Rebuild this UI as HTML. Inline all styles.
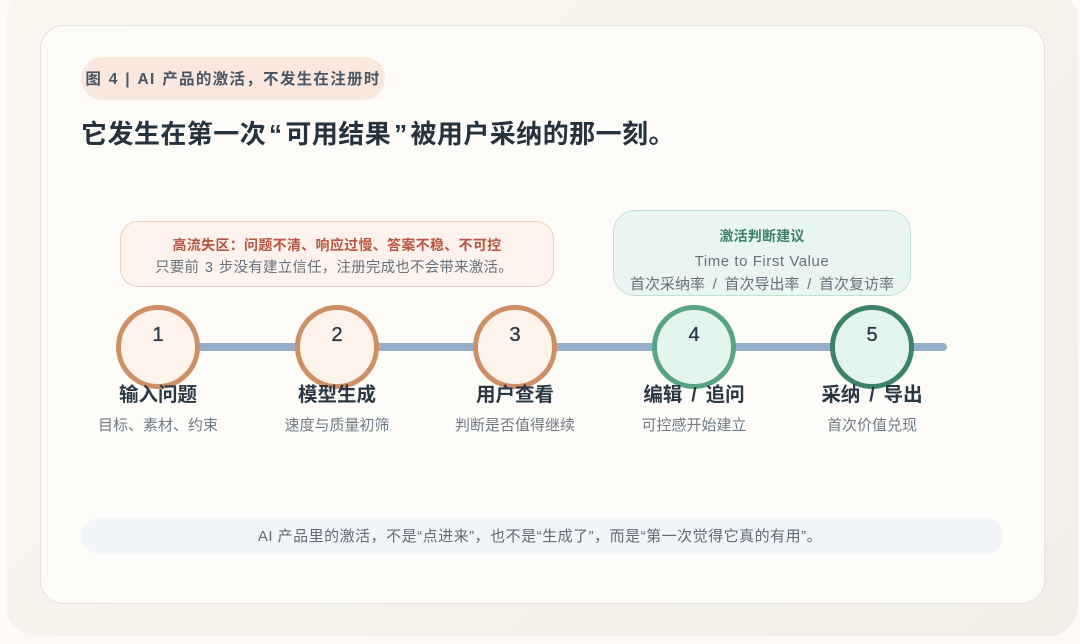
<!DOCTYPE html>
<html lang="zh"><head><meta charset="utf-8">
<style>
html,body{margin:0;padding:0;background:#fefaf5}
#p{position:relative;width:1080px;height:644px;overflow:hidden;background:#fefaf5;font-family:"Liberation Sans","Noto Sans CJK SC",sans-serif}
#p div{position:absolute;box-sizing:border-box}
.t{white-space:nowrap;text-align:center;transform:translateX(-50%)}
.c{width:84px;height:84px;border-radius:50%;top:305px;border:5px solid;text-align:center;font-size:20px;line-height:50px;color:#2b3a4a;-webkit-text-stroke:.35px #2b3a4a}
.n{top:383px;font-size:19.5px;line-height:24px;font-weight:700;color:#2b3743;word-spacing:3.5px}
.s{top:416px;font-size:15px;line-height:20px;color:#6f7b88}
.q{margin:0 2.9px}
</style></head><body><div id="p">
<div style="left:6px;top:-10px;width:1072px;height:646px;border-radius:30px;background:linear-gradient(135deg,#fcf6f0,#f2eee8)"></div>
<div style="left:40px;top:25px;width:1005px;height:579px;border-radius:24px;background:#fefcf9;border:1px solid #e2e4e2"></div>
<div style="left:81px;top:57px;width:304px;height:43px;border-radius:22px;background:#fae8de"></div>
<div class="t" style="left:233px;top:69px;font-size:15.5px;line-height:22px;font-weight:700;color:#4a5564;letter-spacing:1.3px;word-spacing:1px">图 4 | AI 产品的激活，不发生在注册时</div>
<div style="left:81px;top:115px;font-size:26px;line-height:38px;font-weight:700;color:#26323d;white-space:nowrap;letter-spacing:.45px">它发生在第一次<span class="q">“</span>可用结果<span class="q">”</span>被用户采纳的那一刻。</div>

<div style="left:120px;top:221px;width:434px;height:66px;border-radius:18px;background:#fdf3ec;border:1px solid #eccfbd"></div>
<div class="t" style="left:337px;top:235px;font-size:14px;line-height:20px;font-weight:700;color:#b9553f;letter-spacing:.3px">高流失区：问题不清、响应过慢、答案不稳、不可控</div>
<div class="t" style="left:334px;top:258px;font-size:14.5px;line-height:20px;color:#66717e;letter-spacing:.2px;word-spacing:1.5px">只要前 3 步没有建立信任，注册完成也不会带来激活。</div>

<div style="left:613px;top:210px;width:298px;height:86px;border-radius:22px;background:#e8f5f0;border:1px solid #bfe0d3"></div>
<div class="t" style="left:762px;top:226px;font-size:14px;line-height:20px;font-weight:700;color:#3c8268;letter-spacing:.2px">激活判断建议</div>
<div class="t" style="left:762px;top:252px;font-size:15px;line-height:20px;color:#66717e;letter-spacing:.55px">Time to First Value</div>
<div class="t" style="left:762px;top:275px;font-size:15px;line-height:20px;color:#66717e;word-spacing:3.5px">首次采纳率 / 首次导出率 / 首次复访率</div>

<div style="left:158px;top:343px;width:789px;height:8px;border-radius:4px;background:#97aec8"></div>
<div class="c" style="left:116px;background:#fdf3ea;border-color:#cf8f66">1</div>
<div class="c" style="left:295px;background:#fdf3ea;border-color:#cf8f66">2</div>
<div class="c" style="left:473px;background:#fdf3ea;border-color:#cf8f66">3</div>
<div class="c" style="left:652px;background:#e6f4ee;border-color:#57a584">4</div>
<div class="c" style="left:830px;background:#e6f4ee;border-color:#3c8268">5</div>

<div class="t n" style="left:158px">输入问题</div>
<div class="t n" style="left:337px">模型生成</div>
<div class="t n" style="left:515px">用户查看</div>
<div class="t n" style="left:694px">编辑 / 追问</div>
<div class="t n" style="left:872px">采纳 / 导出</div>
<div class="t s" style="left:158px">目标、素材、约束</div>
<div class="t s" style="left:337px">速度与质量初筛</div>
<div class="t s" style="left:515px">判断是否值得继续</div>
<div class="t s" style="left:694px">可控感开始建立</div>
<div class="t s" style="left:872px">首次价值兑现</div>

<div style="left:81px;top:518px;width:922px;height:36px;border-radius:18px;background:#f1f5f8"></div>
<div class="t" style="left:540px;top:527px;font-size:15px;line-height:20px;color:#5f6b78;letter-spacing:.5px">AI 产品里的激活，不是“点进来”，也不是“生成了”，而是“第一次觉得它真的有用”。</div>
</div></body></html>
